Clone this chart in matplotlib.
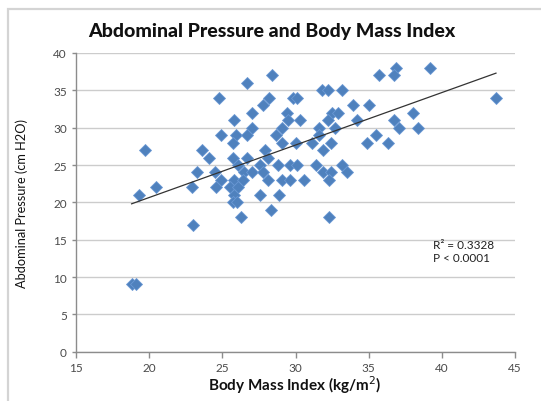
import matplotlib
matplotlib.use("Agg")
import matplotlib.pyplot as plt
import numpy as np
from matplotlib.patches import Rectangle

# Data: (BMI, abdominal pressure)
pressure_levels = [38, 37, 36, 35, 34, 33, 32, 31, 30, 29, 28, 27, 26, 25, 24, 23, 22, 21, 20, 19, 18, 17, 9]
bmi_by_level = [
    [36.9, 39.2],
    [28.4, 35.7, 36.7],
    [26.7],
    [31.8, 32.2, 33.2],
    [24.8, 28.2, 29.8, 30.1, 43.7],
    [27.8, 33.9, 35.0],
    [27.0, 29.4, 32.5, 32.9, 38.0],
    [25.8, 29.5, 30.3, 32.2, 34.2, 36.7],
    [27.0, 29.1, 31.6, 32.7, 37.1, 38.4],
    [24.9, 25.9, 26.7, 28.7, 31.6, 35.5],
    [25.7, 29.1, 30.0, 31.1, 32.4, 34.9, 36.3],
    [19.7, 23.6, 27.9, 31.9],
    [24.1, 25.7, 26.7, 28.1],
    [26.1, 27.6, 28.8, 29.6, 30.1, 31.4, 33.2],
    [23.3, 24.5, 26.5, 27.0, 27.8, 31.9, 32.4, 33.5],
    [24.9, 25.8, 26.4, 28.1, 29.1, 29.6, 30.6, 32.3],
    [20.5, 22.9, 24.6, 25.5, 26.1],
    [19.3, 25.8, 27.6, 28.9],
    [25.7, 26.0],
    [28.3],
    [26.3, 32.3],
    [23.0],
    [18.8, 19.1],
]
bmi = []
pressure = []
for lvl, xs in zip(pressure_levels, bmi_by_level):
    for xv in xs:
        bmi.append(xv)
        pressure.append(lvl)
bmi = np.array(bmi)
pressure = np.array(pressure)

title = "Abdominal Pressure and Body Mass Index"
xlabel = "Body Mass Index (kg/m$^2$)"
ylabel = "Abdominal Pressure (cm H2O)"
annot = "R² = 0.3328\nP < 0.0001"
xticks = [15, 20, 25, 30, 35, 40, 45]
yticks = [0, 5, 10, 15, 20, 25, 30, 35, 40]

plt.rcParams['font.family'] = ['Lato', 'DejaVu Sans']

W, H = 541, 402
fig = plt.figure(figsize=(W / 100, H / 100), dpi=100)

# outer chart frame
fig.patches.append(Rectangle((8 / W, -0.05), 1.1, (H - 10) / H + 0.05,
                             transform=fig.transFigure, fill=False,
                             edgecolor='#d4d4d4', linewidth=1.6))

ax = fig.add_axes([76 / W, (H - 352.7) / H, (515 - 76) / W, (352.7 - 54) / H])
ax.set_xlim(15, 45)
ax.set_ylim(0, 40)
ax.set_xticks(xticks)
ax.set_yticks(yticks)
ax.yaxis.grid(True, color='#cccccc', linewidth=1.0)
ax.set_axisbelow(True)
for s in ['top', 'right']:
    ax.spines[s].set_visible(False)
for s in ['left', 'bottom']:
    ax.spines[s].set_color('#8c8c8c')
    ax.spines[s].set_linewidth(1.0)
ax.tick_params(axis='both', colors='#8c8c8c', labelcolor='#4a4a4a', labelsize=8.5,
               length=4, width=1, direction='out')
ax.tick_params(axis='y', length=3)

ax.plot(bmi, pressure, linestyle='none', marker='D', markersize=6.0,
        markerfacecolor='#4F81BD', markeredgecolor='#6a98d4', markeredgewidth=0.6,
        zorder=3)

# linear trendline
coef = np.polyfit(bmi, pressure, 1)
xl = np.array([bmi.min(), bmi.max()])
ax.plot(xl, np.polyval(coef, xl), color='#333333', linewidth=0.9, zorder=4)

ax.text(433 / W, (H - 252) / H, annot, transform=fig.transFigure, fontsize=8.5,
        color='#222222', va='center', ha='left', linespacing=1.25)

fig.text(272 / W, (H - 32) / H, title, ha='center', va='center',
         fontsize=14, fontweight='black', color='#111111')
fig.text(295 / W, (H - 385) / H, xlabel, ha='center', va='center',
         fontsize=11, fontweight='bold', color='#111111')
fig.text(22 / W, (H - 203) / H, ylabel, ha='center', va='center',
         rotation=90, fontsize=9.2, color='#111111')

fig.savefig('out.png', dpi=100)
